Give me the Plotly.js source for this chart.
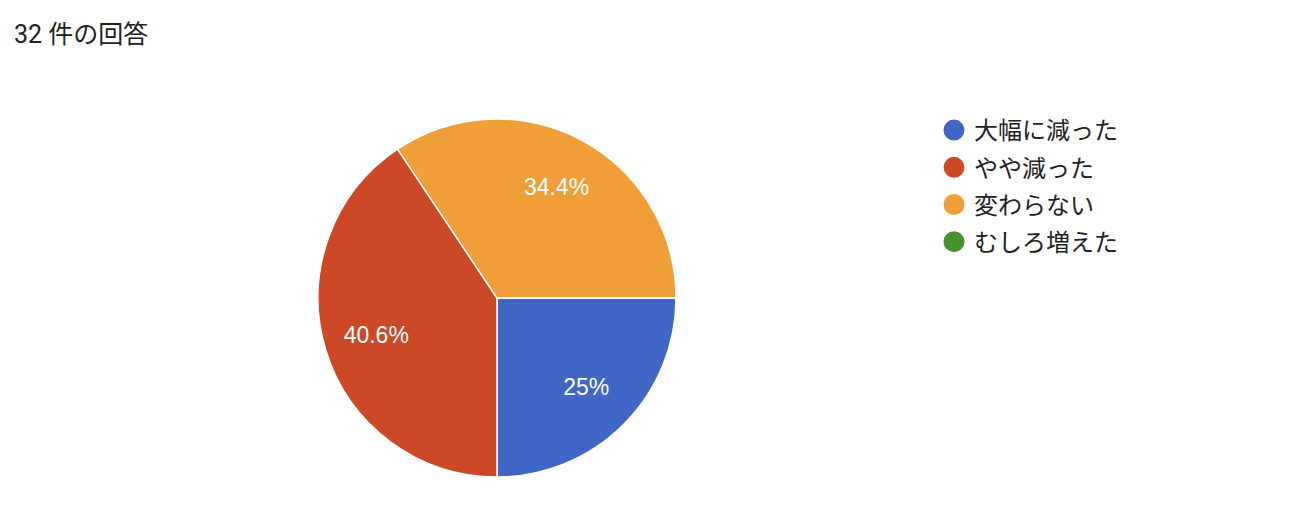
<!DOCTYPE html>
<html>
<head>
<meta charset="utf-8">
<script src="https://cdn.plot.ly/plotly-3.0.1.min.js"></script>
<style>html,body{margin:0;padding:0;background:#fff;}#chart{width:1310px;height:526px;}</style>
</head>
<body>
<div id="chart"></div>
<script>
const titleText = "32 件の回答";
const categories = ["大幅に減った", "やや減った", "変わらない", "むしろ増えた"];
const counts = [8, 13, 11, 0];
const colors = ["#4066c6", "#cc4827", "#f09f38", "#45922f"];

const W = 1310, H = 526;
const cx = 497, cy = 298, r = 179;
const pieDomain = {x: [(cx - r) / W, (cx + r) / W], y: [1 - (cy + r) / H, 1 - (cy - r) / H]};

// filled slices
const pie = {
  type: "pie",
  labels: categories,
  values: counts,
  sort: false,
  direction: "clockwise",
  rotation: 90,
  marker: {colors: colors, line: {color: "#ffffff", width: 1.5}},
  textinfo: "none",
  hoverinfo: "label+value+percent",
  showlegend: false,
  domain: pieDomain
};

// same data, transparent slices, carries the percentage labels (hole pushes labels outward)
const pieLabels = {
  type: "pie",
  labels: categories,
  values: counts,
  sort: false,
  direction: "clockwise",
  rotation: 90,
  hole: 0.41,
  marker: {colors: categories.map(() => "rgba(0,0,0,0)"), line: {width: 0}},
  textinfo: "percent",
  textposition: "inside",
  insidetextorientation: "horizontal",
  textfont: {family: "Arial, 'Liberation Sans', sans-serif", size: 23, color: "#ffffff"},
  hoverinfo: "skip",
  showlegend: false,
  domain: pieDomain
};

const legendTraces = categories.map((c, i) => ({
  type: "scatter",
  mode: "markers",
  x: [null], y: [null],
  name: c,
  legendgroup: "g" + i,
  marker: {color: colors[i], size: 16, symbol: "circle", line: {color: colors[i], width: 5}},
  showlegend: true,
  hoverinfo: "skip"
}));

const layout = {
  width: W, height: H,
  margin: {l: 0, r: 0, t: 0, b: 0},
  paper_bgcolor: "#ffffff",
  plot_bgcolor: "#ffffff",
  font: {family: "Roboto, 'Noto Sans CJK JP', sans-serif", color: "#222222"},
  title: {
    text: titleText,
    x: 14 / W, xref: "paper", xanchor: "left",
    y: 1 - 34 / H, yref: "container", yanchor: "middle",
    font: {family: "Roboto, 'Noto Sans CJK JP', sans-serif", size: 25, color: "#212121"}
  },
  xaxis: {visible: false, domain: [0.9, 0.91]},
  yaxis: {visible: false, domain: [0.9, 0.91]},
  showlegend: true,
  legend: {
    x: 934 / W, xanchor: "left",
    y: 1 - 108 / H, yanchor: "top",
    font: {family: "'Noto Sans CJK JP', sans-serif", size: 24, color: "#222222"},
    tracegroupgap: 3,
    itemsizing: "trace",
    bgcolor: "rgba(0,0,0,0)"
  }
};

Plotly.newPlot("chart", [pie, pieLabels].concat(legendTraces), layout, {displayModeBar: false, staticPlot: true});
</script>
</body>
</html>
